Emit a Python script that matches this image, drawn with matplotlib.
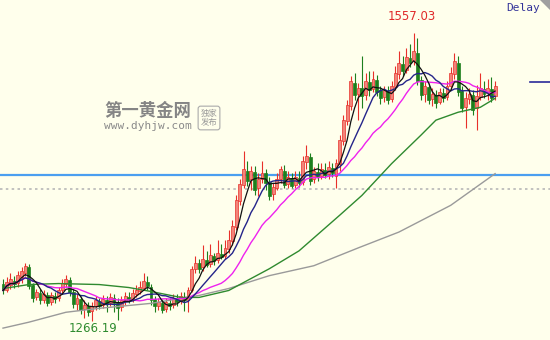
import numpy as np
import pandas as pd
import matplotlib
matplotlib.use("Agg")
import matplotlib.pyplot as plt
from matplotlib.patches import Polygon

# daily gold candles (price)
opens = [1304, 1297, 1303, 1307, 1305, 1311, 1315, 1321, 1303, 1290,
         1294, 1287, 1292, 1285, 1291, 1289, 1297, 1304, 1308, 1295,
         1283, 1288, 1278, 1281, 1276, 1281, 1286, 1282, 1287, 1284,
         1289, 1285, 1280, 1286, 1290, 1288, 1293, 1296, 1300, 1306,
         1301, 1288, 1281, 1284, 1278, 1284, 1282, 1288, 1286, 1290,
         1287, 1297, 1319, 1325, 1321, 1328, 1324, 1332, 1328, 1334,
         1332, 1339, 1347, 1361, 1387, 1404, 1418, 1410, 1417, 1400,
         1410, 1416, 1407, 1394, 1401, 1410, 1418, 1405, 1411, 1404,
         1411, 1407, 1427, 1432, 1410, 1417, 1413, 1419, 1415, 1421,
         1413, 1425, 1448, 1468, 1483, 1507, 1495, 1501, 1494, 1508,
         1500, 1510, 1499, 1492, 1498, 1490, 1502, 1516, 1526, 1520,
         1532, 1529, 1537, 1510, 1495, 1502, 1490, 1494, 1487, 1496,
         1492, 1503, 1516, 1527, 1498, 1482, 1490, 1494, 1481, 1492,
         1500, 1496, 1500, 1493]
highs = [1309, 1311, 1315, 1312, 1317, 1321, 1325, 1324, 1305, 1299,
         1298, 1297, 1295, 1295, 1295, 1301, 1309, 1313, 1311, 1298,
         1293, 1291, 1287, 1285, 1285, 1291, 1289, 1292, 1291, 1294,
         1293, 1289, 1291, 1295, 1295, 1299, 1303, 1307, 1315, 1312,
         1304, 1291, 1289, 1288, 1289, 1289, 1293, 1293, 1295, 1295,
         1301, 1322, 1332, 1329, 1343, 1337, 1344, 1335, 1348, 1344,
         1348, 1358, 1368, 1393, 1410, 1438, 1428, 1423, 1423, 1416,
         1428, 1420, 1412, 1406, 1416, 1423, 1424, 1418, 1416, 1418,
         1418, 1433, 1444, 1436, 1422, 1426, 1426, 1426, 1428, 1426,
         1430, 1454, 1474, 1489, 1514, 1517, 1507, 1534, 1517, 1519,
         1519, 1515, 1503, 1504, 1503, 1509, 1524, 1539, 1534, 1542,
         1546, 1557.03, 1552, 1514, 1509, 1507, 1501, 1499, 1501, 1501,
         1509, 1523, 1537, 1534, 1503, 1497, 1501, 1499, 1505, 1517,
         1509, 1511, 1513, 1509]
lows = [1293, 1295, 1299, 1300, 1301, 1305, 1312, 1299, 1285, 1287,
        1283, 1284, 1281, 1282, 1284, 1286, 1293, 1301, 1291, 1279,
        1277, 1273, 1269, 1271, 1266.19, 1277, 1278, 1279, 1275, 1281,
        1275, 1267, 1276, 1282, 1284, 1285, 1290, 1293, 1297, 1297,
        1282, 1275, 1277, 1274, 1275, 1277, 1279, 1281, 1283, 1276,
        1275, 1295, 1315, 1315, 1317, 1321, 1321, 1323, 1325, 1329,
        1329, 1335, 1343, 1358, 1383, 1400, 1403, 1398, 1393, 1392,
        1406, 1398, 1388, 1388, 1398, 1406, 1400, 1400, 1400, 1400,
        1402, 1404, 1420, 1404, 1406, 1408, 1410, 1411, 1410, 1412,
        1400, 1418, 1444, 1464, 1479, 1489, 1469, 1481, 1489, 1493,
        1497, 1493, 1485, 1487, 1485, 1487, 1499, 1511, 1514, 1517,
        1523, 1525, 1505, 1489, 1487, 1485, 1483, 1481, 1485, 1487,
        1489, 1499, 1511, 1493, 1477, 1461, 1485, 1474, 1459, 1489,
        1491, 1489, 1487, 1489]
closes = [1297, 1306, 1309, 1304, 1313, 1317, 1322, 1302, 1289, 1295,
          1287, 1293, 1284, 1292, 1288, 1297, 1305, 1309, 1295, 1283,
          1289, 1277, 1282, 1275, 1281, 1287, 1281, 1288, 1283, 1290,
          1284, 1279, 1287, 1291, 1287, 1294, 1297, 1301, 1307, 1302,
          1287, 1281, 1285, 1277, 1285, 1281, 1289, 1285, 1291, 1287,
          1297, 1319, 1325, 1319, 1329, 1323, 1333, 1327, 1335, 1331,
          1340, 1348, 1362, 1388, 1405, 1420, 1408, 1418, 1398, 1410,
          1416, 1406, 1392, 1402, 1410, 1420, 1404, 1412, 1403, 1412,
          1406, 1428, 1433, 1408, 1418, 1412, 1420, 1414, 1422, 1416,
          1426, 1449, 1469, 1484, 1509, 1494, 1501, 1493, 1509, 1499,
          1511, 1497, 1491, 1499, 1489, 1503, 1517, 1527, 1519, 1533,
          1527, 1539, 1509, 1494, 1503, 1489, 1495, 1486, 1497, 1491,
          1504, 1517, 1529, 1497, 1481, 1491, 1495, 1479, 1493, 1501,
          1495, 1501, 1491, 1504]

# long moving averages at a few candles
ma60_idx = [0, 7, 15, 26, 34, 40, 48, 53, 61, 72, 80, 91, 97, 105, 113, 117, 123, 129, 133]
ma60_val = [1299, 1303, 1304, 1303, 1300, 1296, 1290, 1290, 1297, 1319, 1337, 1373, 1393,
            1425, 1454, 1469, 1477, 1482, 1491]
ma120_idx = [0, 7, 17, 26, 40, 48, 53, 61, 72, 84, 96, 107, 121, 133]
ma120_val = [1259, 1265, 1275, 1279, 1284, 1289, 1292, 1299, 1312, 1322, 1340, 1356, 1383, 1415]

high_label = "1557.03"
low_label = "1266.19"
line_blue = 1413.6
line_dotted = 1399.5
last_mark = 1507.5

bg = "#ffffec"
fig = plt.figure(figsize=(5.5, 3.4), dpi=100, facecolor=bg)
ax = fig.add_axes([0, 0, 1, 1])
ax.set_facecolor(bg)

o = np.array(opens, dtype=float)
c = np.array(closes, dtype=float)
h = np.array(highs, dtype=float)
l = np.array(lows, dtype=float)
idx = np.arange(len(o))
up = c >= o

edge = np.where(up, "#e8302a", "#1d7f1d")
face = np.where(up, "#f2857a", "#1d7f1d")

ax.axhline(line_dotted, color="#b8b8b8", lw=1.2, ls=(0, (1.5, 2)), zorder=1)
ax.axhline(line_blue, color="#4a9ff0", lw=1.6, zorder=1)
ax.axhline(last_mark, xmin=530 / 550, xmax=1, color="#2b2b9a", lw=1.2)

ax.vlines(idx, l, h, colors=edge, lw=0.8, zorder=2)
body = np.maximum(np.abs(c - o), 0.8)
ax.bar(idx, body, bottom=np.minimum(o, c), width=0.8, color=face,
       edgecolor=edge, lw=0.5, zorder=3)

s = pd.Series(c)
ax.plot(ma120_idx, ma120_val, color="#9a9a9a", lw=1.0, zorder=4)
ax.plot(ma60_idx, ma60_val, color="#2f8a2f", lw=1.0, zorder=4)
ax.plot(idx, s.rolling(20, min_periods=1).mean(), color="#ee22ee", lw=1.0, zorder=5)
ax.plot(idx, s.rolling(10, min_periods=1).mean(), color="#25258a", lw=1.0, zorder=5)
ax.plot(idx, s.rolling(5, min_periods=1).mean(), color="#111111", lw=0.9, zorder=6)

# pixel mapping: x = 3 + 3.7*i, price 1557.03 at y=33, 1266.19 at y=321
ax.set_xlim(-3 / 3.7, 547 / 3.7)
ax.set_ylim(1247.0, 1590.35)
ax.axis("off")

fig.text(412 / 550, 1 - 17 / 340, high_label, color="#e02a2a", fontsize=8.5,
         ha="center", va="center")
fig.text(93 / 550, 1 - 328 / 340, low_label, color="#2e8b2e", fontsize=8.5,
         ha="center", va="center")
fig.text(523 / 550, 1 - 8 / 340, "Delay", color="#333399", fontsize=8,
         family="DejaVu Sans Mono", ha="center", va="center")

# watermark
fig.text(104 / 550, 1 - 111 / 340, "第一黄金网", color="#858585", fontsize=12.5,
         fontweight="bold", family=["Noto Sans CJK SC", "DejaVu Sans"],
         ha="left", va="center")
fig.text(104 / 550, 1 - 126 / 340, "www.dyhjw.com", color="#8a8a8a", fontsize=8,
         family="DejaVu Sans Mono", ha="left", va="center")
fig.text(209 / 550, 1 - 118 / 340, "独家\n发布", color="#999999", fontsize=6,
         family=["Noto Sans CJK SC", "DejaVu Sans"], ha="center", va="center",
         linespacing=1.1,
         bbox=dict(boxstyle="round,pad=0.3", fc="none", ec="#aaaaaa", lw=0.8))

fig.patches.append(Polygon([(540 / 550, 1), (1, 1), (1, 1 - 10 / 340)],
                           closed=True, transform=fig.transFigure,
                           facecolor="#a0a0a0", edgecolor="none"))

fig.savefig("out.png", dpi=100, facecolor=bg)
